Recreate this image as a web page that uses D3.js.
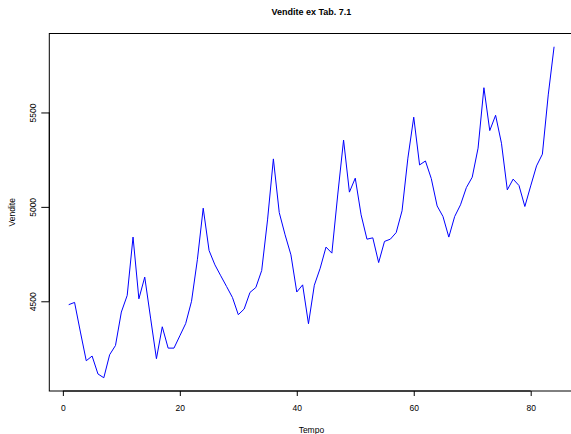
<!DOCTYPE html>
<html>
<head>
<meta charset="utf-8">
<script src="https://cdn.jsdelivr.net/npm/d3@7"></script>
<style>
  html, body { margin: 0; padding: 0; background: #fff; }
  svg { display: block; }
  text { font-family: "Liberation Sans", Arial, Helvetica, sans-serif; fill: #000; }
</style>
</head>
<body>
<div id="chart"></div>
<script>
// ---- data ----
const title = "Vendite ex Tab. 7.1";
const xLabel = "Tempo";
const yLabel = "Vendite";
const tempo = d3.range(1, 85);
const vendite = [
  4482, 4494, 4337, 4185, 4210, 4115, 4095, 4217, 4266, 4443, 4531, 4840,
  4513, 4628, 4411, 4196, 4365, 4252, 4252, 4317, 4382, 4500, 4720, 4993,
  4769, 4693, 4635, 4578, 4520, 4429, 4459, 4547, 4573, 4663, 4931, 5254,
  4970, 4852, 4746, 4549, 4587, 4381, 4585, 4675, 4787, 4755, 5063, 5354,
  5078, 5152, 4958, 4829, 4836, 4705, 4817, 4829, 4864, 4979, 5258, 5475,
  5222, 5243, 5150, 5005, 4949, 4840, 4949, 5011, 5102, 5157, 5311, 5631,
  5404, 5485, 5337, 5090, 5147, 5113, 5002, 5111, 5217, 5279, 5593, 5848
];
const xTicks = [0, 20, 40, 60, 80];
const yTicks = [4500, 5000, 5500];

// ---- layout ----
const W = 571, H = 434;
const plot = { left: 49.3, right: 573.5, top: 33.5, bottom: 391 };

const svg = d3.select("#chart").append("svg")
  .attr("width", W).attr("height", H);

// R-style 4% axis padding
const xExt = d3.extent(tempo), yExt = d3.extent(vendite);
const xPad = (xExt[1] - xExt[0]) * 0.04, yPad = (yExt[1] - yExt[0]) * 0.04;
const x = d3.scaleLinear().domain([xExt[0] - xPad, xExt[1] + xPad]).range([plot.left, plot.right]);
const y = d3.scaleLinear().domain([yExt[0] - yPad, yExt[1] + yPad]).range([plot.bottom, plot.top]);

// line
const line = d3.line().x((d, i) => x(tempo[i])).y(d => y(d));
svg.append("path").datum(vendite)
  .attr("d", line)
  .attr("fill", "none")
  .attr("stroke", "#0000ff")
  .attr("stroke-width", 1)
  .attr("stroke-linejoin", "round");

// box
svg.append("rect")
  .attr("x", plot.left).attr("y", plot.top)
  .attr("width", plot.right - plot.left).attr("height", plot.bottom - plot.top)
  .attr("fill", "none").attr("stroke", "#000").attr("stroke-width", 1);

// x axis
const xAxis = d3.axisBottom(x).tickValues(xTicks).tickSize(5).tickPadding(9).tickFormat(d3.format("d"));
const gx = svg.append("g").attr("transform", `translate(0,${plot.bottom})`).call(xAxis);
gx.select(".domain").attr("d", `M${x(xTicks[0])},0H${x(xTicks[xTicks.length-1])}`).attr("stroke", "#000");
gx.selectAll(".tick line").attr("stroke", "#000");
gx.selectAll(".tick text").attr("font-size", "8.5px").attr("font-family", "Liberation Sans, Arial, sans-serif").attr("fill", "#000");

// y axis
const yAxis = d3.axisLeft(y).tickValues(yTicks).tickSize(8).tickFormat(d3.format("d"));
const gy = svg.append("g").attr("transform", `translate(${plot.left},0)`).call(yAxis);
gy.select(".domain").attr("d", `M0,${y(yTicks[0])}V${y(yTicks[yTicks.length-1])}`).attr("stroke", "#000");
gy.selectAll(".tick line").attr("stroke", "#000");
gy.selectAll(".tick text")
  .attr("font-size", "8.5px").attr("font-family", "Liberation Sans, Arial, sans-serif").attr("fill", "#000")
  .attr("x", null).attr("dy", null)
  .attr("text-anchor", "middle")
  .attr("transform", "translate(-13,0) rotate(-90)")
  .attr("dy", "0");

// title & labels
const cx = (plot.left + plot.right) / 2;
svg.append("text").attr("x", cx).attr("y", 15)
  .attr("text-anchor", "middle").attr("font-size", "9px").attr("font-weight", "bold").text(title);
svg.append("text").attr("x", cx).attr("y", 433)
  .attr("text-anchor", "middle").attr("font-size", "8.5px").text(xLabel);
svg.append("text").attr("transform", `translate(15,${(plot.top + plot.bottom) / 2}) rotate(-90)`)
  .attr("text-anchor", "middle").attr("font-size", "8.5px").text(yLabel);
</script>
</body>
</html>
